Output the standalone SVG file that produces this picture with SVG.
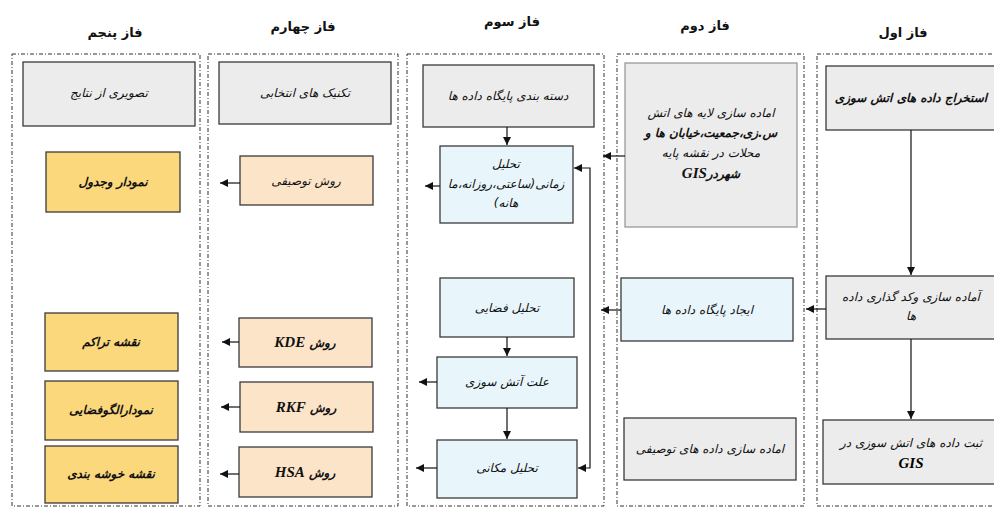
<svg xmlns="http://www.w3.org/2000/svg" width="994" height="508" viewBox="0 0 994 508">
<style>
.panel{fill:none;stroke:#333;stroke-width:1;stroke-dasharray:4 2 1 2}
.gray{fill:#ececec;stroke:#3a3a3a;stroke-width:1.3}
.gray2{fill:#ececec;stroke:#9a9a9a;stroke-width:1.3}
.blue{fill:#e8f6fc;stroke:#3a3a3a;stroke-width:1.3}
.peach{fill:#fce4c9;stroke:#3a3a3a;stroke-width:1.3}
.yellow{fill:#fcd87c;stroke:#3a3a3a;stroke-width:1.3}
.hd{font-family:"DejaVu Sans",sans-serif;font-size:13px;font-weight:bold;fill:#111}
.t{font-family:"DejaVu Sans",sans-serif;font-size:12px;font-style:italic;fill:#111}
.tb{font-family:"DejaVu Sans",sans-serif;font-size:12px;font-style:italic;font-weight:bold;fill:#111}
.lat{font-family:"Liberation Serif",serif;font-size:15px;font-style:italic;font-weight:bold}
.c{fill:none;stroke:#111;stroke-width:1.2}
</style>
<defs>
<marker id="ah" viewBox="0 0 10 10" refX="10" refY="5" markerWidth="8" markerHeight="8" markerUnits="userSpaceOnUse" orient="auto-start-reverse">
<path d="M0,0 L10,5 L0,10 z" fill="#111"/>
</marker>
</defs>
<rect width="994" height="508" fill="#fff"/>

<g id="headers">
<text class="hd" x="115" y="37" text-anchor="middle" direction="rtl">فاز پنجم</text>
<text class="hd" x="303" y="31" text-anchor="middle" direction="rtl">فاز چهارم</text>
<text class="hd" x="512" y="26" text-anchor="middle" direction="rtl">فاز سوم</text>
<text class="hd" x="705" y="30" text-anchor="middle" direction="rtl">فاز دوم</text>
<text class="hd" x="903" y="37" text-anchor="middle" direction="rtl">فاز اول</text>
</g>

<g id="panels">
<rect class="panel" x="12" y="54" width="188" height="452"/>
<rect class="panel" x="208" y="54" width="190" height="452"/>
<rect class="panel" x="407" y="54" width="197" height="452"/>
<rect class="panel" x="617" y="54" width="187" height="452"/>
<rect class="panel" x="817" y="54" width="190" height="452"/>
</g>

<!-- Phase 1 -->
<g id="p1-extract">
<rect class="gray" x="826" y="66" width="180" height="64"/>
<text class="tb" x="911" y="102" text-anchor="middle" direction="rtl">استخراج داده های اتش سوزی</text>
</g>
<g id="p1-prepare">
<rect class="gray" x="826" y="276" width="180" height="63"/>
<text class="t" x="911" y="301" text-anchor="middle" direction="rtl">آماده سازی وکد گذاری داده</text>
<text class="t" x="911" y="320" text-anchor="middle" direction="rtl">ها</text>
</g>
<g id="p1-register">
<rect class="gray" x="823" y="420" width="183" height="64"/>
<text class="t" x="911" y="447" text-anchor="middle" direction="rtl">ثبت داده های اتش سوزی در</text>
<text class="lat" x="911" y="468" text-anchor="middle">GIS</text>
</g>

<!-- Phase 2 -->
<g id="p2-layers">
<rect class="gray2" x="625" y="63" width="172" height="164"/>
<text class="t" x="711" y="117" text-anchor="middle" direction="rtl">اماده سازی لایه های اتش</text>
<text class="tb" x="711" y="137" text-anchor="middle" direction="rtl">س.زی،جمعیت،خیابان ها و</text>
<text class="t" x="711" y="157" text-anchor="middle" direction="rtl">محلات در نقشه پایه</text>
<text class="tb" x="711" y="178" text-anchor="middle" direction="rtl">شهردر<tspan class="lat">GIS</tspan></text>
</g>
<g id="p2-database">
<rect class="blue" x="621" y="278" width="172" height="63"/>
<text class="t" x="707" y="314" text-anchor="middle" direction="rtl">ایجاد پایگاه داده ها</text>
</g>
<g id="p2-descriptive">
<rect class="gray" x="624" y="418" width="172" height="62"/>
<text class="t" x="710" y="453" text-anchor="middle" direction="rtl">اماده سازی داده های توصیفی</text>
</g>

<!-- Phase 3 -->
<g id="p3-classify">
<rect class="gray" x="423" y="65" width="171" height="62"/>
<text class="t" x="508" y="100" text-anchor="middle" direction="rtl">دسته بندی پایگاه داده ها</text>
</g>
<g id="p3-temporal">
<rect class="blue" x="440" y="146" width="133" height="77"/>
<text class="t" x="506" y="168" text-anchor="middle" direction="rtl">تحلیل</text>
<text class="t" x="506" y="188" text-anchor="middle" direction="rtl">زمانی(ساعتی،روزانه،ما</text>
<text class="t" x="506" y="207" text-anchor="middle" direction="rtl">هانه)</text>
</g>
<g id="p3-spatial">
<rect class="blue" x="440" y="278" width="134" height="59"/>
<text class="t" x="507" y="312" text-anchor="middle" direction="rtl">تحلیل فضایی</text>
</g>
<g id="p3-cause">
<rect class="blue" x="437" y="357" width="140" height="51"/>
<text class="t" x="507" y="386" text-anchor="middle" direction="rtl">علت آتش سوزی</text>
</g>
<g id="p3-location">
<rect class="blue" x="437" y="440" width="140" height="58"/>
<text class="t" x="507" y="472" text-anchor="middle" direction="rtl">تحلیل مکانی</text>
</g>

<!-- Phase 4 -->
<g id="p4-techniques">
<rect class="gray" x="219" y="62" width="172" height="62"/>
<text class="t" x="305" y="97" text-anchor="middle" direction="rtl">تکنیک های انتخابی</text>
</g>
<g id="p4-descriptive">
<rect class="peach" x="240" y="156" width="133" height="49"/>
<text class="t" x="306" y="185" text-anchor="middle" direction="rtl">روش توصیفی</text>
</g>
<g id="p4-kde">
<rect class="peach" x="239" y="318" width="133" height="49"/>
<text class="tb" x="305" y="347" text-anchor="middle" direction="rtl">روش <tspan class="lat">KDE</tspan></text>
</g>
<g id="p4-rkf">
<rect class="peach" x="240" y="382" width="133" height="50"/>
<text class="tb" x="306" y="412" text-anchor="middle" direction="rtl">روش <tspan class="lat">RKF</tspan></text>
</g>
<g id="p4-hsa">
<rect class="peach" x="239" y="447" width="133" height="50"/>
<text class="tb" x="305" y="477" text-anchor="middle" direction="rtl">روش <tspan class="lat">HSA</tspan></text>
</g>

<!-- Phase 5 -->
<g id="p5-results">
<rect class="gray" x="23" y="62" width="172" height="64"/>
<text class="t" x="109" y="97" text-anchor="middle" direction="rtl">تصویری از نتایج</text>
</g>
<g id="p5-chart">
<rect class="yellow" x="46" y="152" width="134" height="60"/>
<text class="tb" x="113" y="186" text-anchor="middle" direction="rtl">نمودار وجدول</text>
</g>
<g id="p5-density">
<rect class="yellow" x="45" y="313" width="133" height="58"/>
<text class="tb" x="111" y="346" text-anchor="middle" direction="rtl">نقشه تراکم</text>
</g>
<g id="p5-pattern">
<rect class="yellow" x="45" y="381" width="133" height="59"/>
<text class="tb" x="111" y="414" text-anchor="middle" direction="rtl">نمودارالگوفضایی</text>
</g>
<g id="p5-cluster">
<rect class="yellow" x="45" y="446" width="133" height="57"/>
<text class="tb" x="111" y="478" text-anchor="middle" direction="rtl">نقشه خوشه بندی</text>
</g>

<g id="connectors">
<path class="c" d="M911,130 L911,275" marker-end="url(#ah)"/>
<path class="c" d="M911,339 L911,419" marker-end="url(#ah)"/>
<path class="c" d="M826,309 L806,309" marker-end="url(#ah)"/>
<path class="c" d="M625,156 L603,156" marker-end="url(#ah)"/>
<path class="c" d="M621,310 L601,310" marker-end="url(#ah)"/>
<path class="c" d="M507,127 L507,145" marker-end="url(#ah)"/>
<path class="c" d="M507,337 L507,356" marker-end="url(#ah)"/>
<path class="c" d="M507,408 L507,439" marker-end="url(#ah)"/>
<path class="c" d="M574,168 L590,168 L590,468 L578,468" marker-start="url(#ah)" marker-end="url(#ah)"/>
<path class="c" d="M440,186 L425,186" marker-end="url(#ah)"/>
<path class="c" d="M437,382 L419,382" marker-end="url(#ah)"/>
<path class="c" d="M437,468 L416,468" marker-end="url(#ah)"/>
<path class="c" d="M240,183 L220,183" marker-end="url(#ah)"/>
<path class="c" d="M239,342 L222,342" marker-end="url(#ah)"/>
<path class="c" d="M240,407 L221,407" marker-end="url(#ah)"/>
<path class="c" d="M239,474 L220,474" marker-end="url(#ah)"/>
</g>
</svg>
